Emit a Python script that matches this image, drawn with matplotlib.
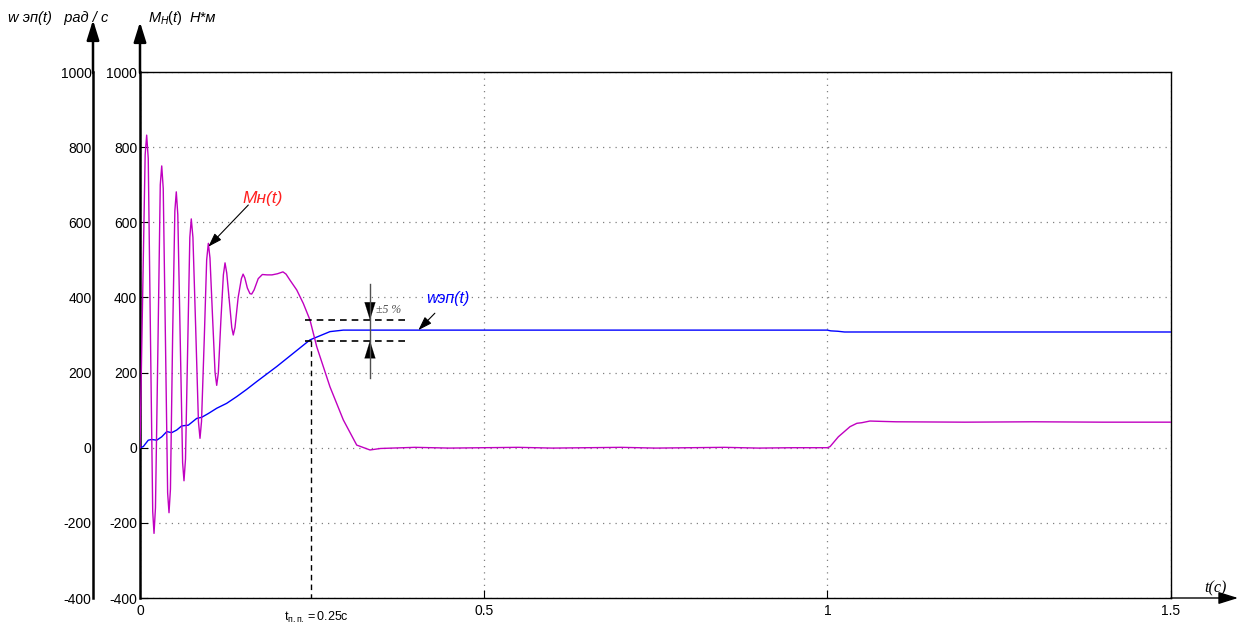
import matplotlib.pyplot as plt

plt.rcParams['font.family'] = ['Liberation Sans', 'DejaVu Sans']
plt.rcParams['mathtext.fontset'] = 'custom'
plt.rcParams['mathtext.rm'] = 'Liberation Sans'
plt.rcParams['mathtext.it'] = 'Liberation Sans:italic'
plt.rcParams['axes.unicode_minus'] = False

# момент Мн(t), Н*м
m_t = [0, 0.004, 0.0075, 0.0097, 0.012, 0.0152, 0.0185, 0.0204, 0.0225, 0.026,
       0.0295, 0.0316, 0.0338, 0.037, 0.0402, 0.0422, 0.0443, 0.0475, 0.0507, 0.0528,
       0.055, 0.0584, 0.062, 0.064, 0.0662, 0.0693, 0.0725, 0.0746, 0.077, 0.081,
       0.085, 0.0873, 0.0895, 0.0935, 0.097, 0.0994, 0.1018, 0.1055, 0.1092, 0.1116,
       0.114, 0.1177, 0.1213, 0.1237, 0.1262, 0.13, 0.1335, 0.1357, 0.1382, 0.1428,
       0.1475, 0.150, 0.1525, 0.1562, 0.16, 0.1625, 0.166, 0.172, 0.178, 0.185,
       0.192, 0.2, 0.208, 0.2125, 0.2182, 0.228, 0.2376, 0.2473, 0.2571, 0.2764,
       0.2958, 0.3153, 0.3346, 0.35, 0.40, 0.45, 0.50, 0.55, 0.60, 0.65,
       0.70, 0.75, 0.80, 0.85, 0.90, 0.95, 1.0, 1.004, 1.016, 1.033,
       1.043, 1.05, 1.062, 1.08, 1.1, 1.2, 1.3, 1.4, 1.5]
m_val = [0, 420, 780, 832, 770, 300, -170, -228, -160, 260,
         700, 750, 690, 290, -120, -173, -110, 300, 630, 681,
         620, 300, -40, -88, -30, 260, 560, 609, 560, 320,
         70, 25, 70, 290, 500, 544, 505, 350, 200, 166,
         200, 340, 460, 492, 465, 390, 320, 300, 320, 400,
         450, 462, 452, 425, 410, 409, 420, 450, 461, 460,
         460, 463, 468, 462, 446, 420, 384, 340, 269, 162,
         74, 7, -6, -2, 1, -1, 0, 1, -1, 0,
         1, -1, 0, 1, -1, 0, 0, 3, 29, 56,
         65, 66.5, 71, 70, 69, 68, 69, 68, 68]

# скорость wэп(t), рад/с
w_t = [0, 0.0048, 0.012, 0.017, 0.0243, 0.0316, 0.039, 0.046, 0.0534, 0.0606,
       0.0703, 0.0825, 0.0898, 0.0994, 0.1116, 0.126, 0.1407, 0.155, 0.1698, 0.1989,
       0.2473, 0.2764, 0.2958, 0.32, 0.5, 1.0, 1.005, 1.015, 1.025, 1.5]
w_val = [0, 3, 20, 22, 20, 29, 43, 40, 47, 58,
         60, 78, 81, 91, 105, 118, 136, 155, 176, 216,
         287, 309, 313, 313, 313, 313, 311, 310, 308, 308]

y_ticks = [-400, -200, 0, 200, 400, 600, 800, 1000]
x_ticks = [0, 0.5, 1, 1.5]
x_labels = ['0', '0.5', '1', '1.5']

band_hi, band_lo = 340, 285
t_pp = 0.249

fig = plt.figure(figsize=(12.5, 6.26), dpi=100)
ax = fig.add_axes([140 / 1250, 28 / 626, 1031 / 1250, 526 / 626])

ax.plot(w_t, w_val, color='#0000ff', lw=1.0, zorder=3)
ax.plot(m_t, m_val, color='#c000c0', lw=1.0, zorder=3)

ax.set_xlim(0, 1.5)
ax.set_ylim(-400, 1000)
ax.set_xticks(x_ticks)
ax.set_xticklabels(x_labels)
ax.set_yticks(y_ticks)
ax.tick_params(direction='in', length=6, labelsize=10, pad=4)
ax.tick_params(axis='y', pad=2)
ax.grid(True, color='#808080', linestyle=(0, (1, 4)), lw=0.9)
for s in ax.spines.values():
    s.set_linewidth(1.0)
ax.spines['left'].set_linewidth(1.8)

# вторая ось слева
ax2 = ax.twinx()
ax2.set_ylim(-400, 1000)
ax2.set_yticks(y_ticks)
ax2.yaxis.set_ticks_position('left')
ax2.spines['right'].set_visible(False)
ax2.spines['top'].set_visible(False)
ax2.spines['bottom'].set_visible(False)
ax2.spines['left'].set_position(('outward', 47 * 0.72))
ax2.spines['left'].set_linewidth(1.8)
ax2.tick_params(length=0, labelsize=10, pad=1)

# стрелки осей
ap = dict(arrowstyle='-|>,head_length=0.8,head_width=0.25', color='k', lw=1.8,
          mutation_scale=15, shrinkA=0, shrinkB=0)
ax.annotate('', xy=(93, 606), xytext=(93, 553), xycoords='figure pixels', arrowprops=ap)
ax.annotate('', xy=(140, 604), xytext=(140, 553), xycoords='figure pixels', arrowprops=ap)
ap_x = dict(ap, lw=1.0)
ax.annotate('', xy=(1238, 28), xytext=(1171, 28), xycoords='figure pixels', arrowprops=ap_x)

# зона ±5%
ax.plot([0.24, 0.39], [band_hi, band_hi], color='k', ls=(0, (4, 3)), lw=1.2, zorder=4)
ax.plot([0.24, 0.39], [band_lo, band_lo], color='k', ls=(0, (4, 3)), lw=1.2, zorder=4)
ax.plot([t_pp, t_pp], [band_lo, -400], color='k', ls=(0, (4, 3)), lw=1.0, zorder=4)
ax.plot([0.3346, 0.3346], [437, 185], color='#505050', lw=1.0, zorder=4)
ah = dict(arrowstyle='-|>,head_length=0.9,head_width=0.28', color='k', lw=0.1,
          mutation_scale=14, shrinkA=0, shrinkB=0)
ax.annotate('', xy=(0.3346, band_hi), xytext=(0.3346, band_hi + 45), arrowprops=ah)
ax.annotate('', xy=(0.3346, band_lo), xytext=(0.3346, band_lo - 45), arrowprops=ah)
ax.text(0.3434, 366, '±5 %', family='Liberation Serif', style='italic',
        fontsize=8.5, color='#505050', va='center', ha='left')

# подписи кривых
ax.text(0.179, 662, 'Mн(t)', color='#ff2020', style='italic', fontsize=12.5,
        ha='center', va='center')
ax.annotate('', xy=(0.0994, 535), xytext=(0.1576, 646),
            arrowprops=dict(arrowstyle='-|>,head_length=0.6,head_width=0.2',
                            color='k', lw=0.8, mutation_scale=14, shrinkA=0, shrinkB=0))
ax.text(0.448, 398, 'wэп(t)', color='#0000ff', style='italic', fontsize=11.5,
        ha='center', va='center')
ax.annotate('', xy=(0.405, 313), xytext=(0.429, 358),
            arrowprops=dict(arrowstyle='-|>,head_length=0.6,head_width=0.2',
                            color='k', lw=0.8, mutation_scale=14, shrinkA=0, shrinkB=0))

# подписи осей
fig.text(8 / 1250, 608 / 626, 'w эп(t)   рад / с', style='italic', fontsize=10.5,
         ha='left', va='center')
fig.text(148 / 1250, 608 / 626, r'$\mathit{M_{Н}(t)}$', fontsize=10.5, ha='left', va='center')
fig.text(190 / 1250, 608 / 626, 'Н*м', style='italic', fontsize=10.5, ha='left', va='center')
fig.text(1215 / 1250, 38 / 626, 't(c)', family='Liberation Serif', style='italic',
         fontsize=11.5, ha='center', va='center')
fig.text(316 / 1250, 9 / 626, r'$\mathrm{t_{п.п.}=0.25c}$', fontsize=9,
         ha='center', va='center')

fig.savefig('out.png', dpi=100)
